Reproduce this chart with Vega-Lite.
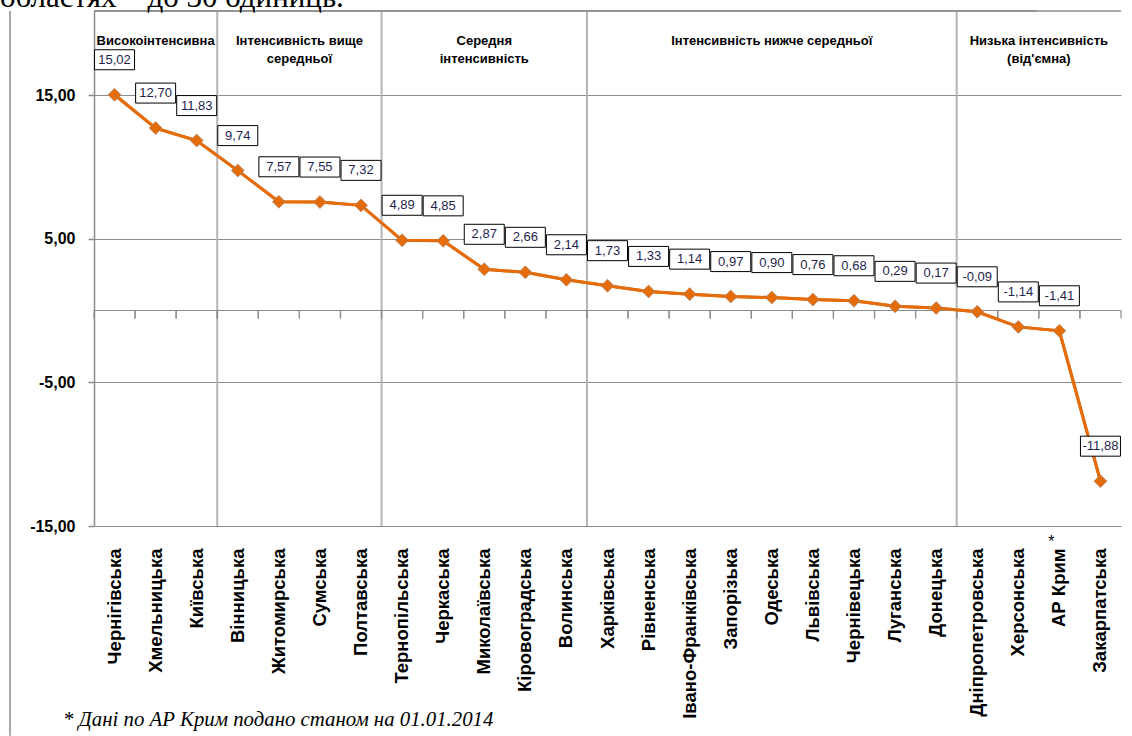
{
  "$schema": "https://vega.github.io/schema/vega-lite/v6.json",
  "width": 1027,
  "height": 515,
  "autosize": {"type": "none"},
  "padding": {"left": 94, "top": 11, "right": 11, "bottom": 210},
  "background": "white",
  "config": {
    "view": {"stroke": null},
    "locale": {"number": {"decimal": ",", "thousands": " ", "grouping": [3], "currency": ["", ""], "minus": "-"}},
    "axisX": {
      "domain": false, "ticks": false, "grid": false,
      "labelAngle": -90, "labelAlign": "right", "labelBaseline": "middle",
      "labelFont": "Liberation Sans", "labelFontSize": 18.5, "labelFontWeight": "bold",
      "labelColor": "black", "labelPadding": 22, "labelOverlap": false, "labelLimit": 300
    },
    "axisY": {
      "grid": true, "gridColor": "#8c8c8c", "gridWidth": 1.2,
      "domain": true, "domainColor": "#8c8c8c", "domainWidth": 1.5,
      "ticks": true, "tickColor": "#8c8c8c", "tickSize": 6, "tickWidth": 1.5,
      "labelFont": "Liberation Sans", "labelFontSize": 16, "labelFontWeight": "bold",
      "labelColor": "black", "labelPadding": 13
    }
  },
  "datasets": {
    "regions": [
      {"region": "Чернігівська", "value": 15.02},
      {"region": "Хмельницька", "value": 12.70},
      {"region": "Київська", "value": 11.83},
      {"region": "Вінницька", "value": 9.74},
      {"region": "Житомирська", "value": 7.57},
      {"region": "Сумська", "value": 7.55},
      {"region": "Полтавська", "value": 7.32},
      {"region": "Тернопільська", "value": 4.89},
      {"region": "Черкаська", "value": 4.85},
      {"region": "Миколаївська", "value": 2.87},
      {"region": "Кіровоградська", "value": 2.66},
      {"region": "Волинська", "value": 2.14},
      {"region": "Харківська", "value": 1.73},
      {"region": "Рівненська", "value": 1.33},
      {"region": "Івано-Франківська", "value": 1.14},
      {"region": "Запорізька", "value": 0.97},
      {"region": "Одеська", "value": 0.90},
      {"region": "Львівська", "value": 0.76},
      {"region": "Чернівецька", "value": 0.68},
      {"region": "Луганська", "value": 0.29},
      {"region": "Донецька", "value": 0.17},
      {"region": "Дніпропетровська", "value": -0.09},
      {"region": "Херсонська", "value": -1.14},
      {"region": "АР Крим", "value": -1.41},
      {"region": "Закарпатська", "value": -11.88}
    ],
    "groups": [
      {"region": "Вінницька"},
      {"region": "Тернопільська"},
      {"region": "Харківська"},
      {"region": "Дніпропетровська"}
    ],
    "headers_mid": [
      {"region": "Хмельницька", "text": "Високоінтенсивна"},
      {"region": "Миколаївська", "text": "Середня\nінтенсивність"},
      {"region": "Одеська", "text": "Інтенсивність нижче середньої"}
    ],
    "headers_edge": [
      {"region": "Житомирська", "text": "Інтенсивність вище\nсередньої"},
      {"region": "Херсонська", "text": "Низька інтенсивність\n(від'ємна)"}
    ],
    "notes": [
      {"region": "Чернігівська", "text": "* Дані по АР Крим подано станом на 01.01.2014"}
    ],
    "star": [{"region": "АР Крим", "text": "*"}],
    "toptext": [{"region": "Чернігівська", "text": "областях – до 30 одиниць."}],
    "one": [{"k": 1}]
  },
  "layer": [
    {
      "data": {"name": "regions"},
      "mark": {"type": "line", "color": "#E46C0A", "strokeWidth": 3},
      "encoding": {
        "x": {
          "field": "region", "type": "nominal", "sort": null,
          "scale": {
            "domain": ["Чернігівська","Хмельницька","Київська","Вінницька","Житомирська","Сумська","Полтавська","Тернопільська","Черкаська","Миколаївська","Кіровоградська","Волинська","Харківська","Рівненська","Івано-Франківська","Запорізька","Одеська","Львівська","Чернівецька","Луганська","Донецька","Дніпропетровська","Херсонська","АР Крим","Закарпатська"],
            "type": "band", "paddingInner": 0, "paddingOuter": 0
          },
          "axis": {"title": null}
        },
        "y": {
          "field": "value", "type": "quantitative",
          "scale": {"domain": [-15, 20.85], "nice": false, "zero": false},
          "axis": {"title": null, "values": [-15, -5, 5, 15], "format": ".2f"}
        }
      }
    },
    {
      "data": {"name": "groups"},
      "mark": {"type": "rule", "color": "#b4b4b4", "strokeWidth": 2},
      "encoding": {
        "x": {"field": "region", "type": "nominal", "bandPosition": 0, "axis": {"title": null}}
      }
    },
    {
      "data": {"name": "one"},
      "mark": {"type": "rule", "color": "#8c8c8c", "strokeWidth": 1.2},
      "encoding": {"y": {"datum": 0, "type": "quantitative", "axis": {"title": null}}}
    },
    {
      "data": {"name": "regions"},
      "mark": {"type": "rule", "color": "#8c8c8c", "strokeWidth": 1.2},
      "encoding": {
        "x": {"field": "region", "type": "nominal", "bandPosition": 0, "axis": {"title": null}},
        "y": {"datum": 0, "type": "quantitative", "axis": {"title": null}},
        "y2": {"datum": -0.55}
      }
    },
    {
      "data": {"name": "regions"},
      "mark": {"type": "rule", "color": "#8c8c8c", "strokeWidth": 1.2},
      "encoding": {
        "x": {"field": "region", "type": "nominal", "bandPosition": 1, "axis": {"title": null}},
        "y": {"datum": 0, "type": "quantitative", "axis": {"title": null}},
        "y2": {"datum": -0.55}
      }
    },
    {
      "data": {"name": "regions"},
      "mark": {"type": "line", "color": "#E46C0A", "strokeWidth": 3},
      "encoding": {
        "x": {"field": "region", "type": "nominal", "sort": null, "axis": {"title": null}},
        "y": {"field": "value", "type": "quantitative", "axis": {"title": null}}
      }
    },
    {
      "data": {"name": "regions"},
      "mark": {"type": "point", "shape": "diamond", "size": 170, "filled": true, "fill": "#E46C0A", "stroke": "#a08a80", "strokeWidth": 0.6, "opacity": 1},
      "encoding": {
        "x": {"field": "region", "type": "nominal", "axis": {"title": null}},
        "y": {"field": "value", "type": "quantitative", "axis": {"title": null}}
      }
    },
    {
      "data": {"name": "regions"},
      "mark": {"type": "point", "shape": "M-1,-0.5H1V0.5H-1Z", "size": 1600, "filled": true, "fill": "white", "stroke": "black", "strokeWidth": 1, "opacity": 1, "yOffset": -35},
      "encoding": {
        "x": {"field": "region", "type": "nominal", "axis": {"title": null}},
        "y": {"field": "value", "type": "quantitative", "axis": {"title": null}}
      }
    },
    {
      "data": {"name": "regions"},
      "mark": {"type": "text", "font": "Liberation Sans", "fontSize": 13, "color": "#1f1f4f", "align": "center", "baseline": "middle", "dy": -35},
      "encoding": {
        "x": {"field": "region", "type": "nominal", "axis": {"title": null}},
        "y": {"field": "value", "type": "quantitative", "axis": {"title": null}},
        "text": {"field": "value", "type": "quantitative", "format": ".2f"}
      }
    },
    {
      "data": {"name": "headers_mid"},
      "mark": {"type": "text", "font": "Liberation Sans", "fontSize": 13, "fontWeight": "bold", "color": "black", "align": "center", "baseline": "middle", "lineBreak": "\n", "lineHeight": 18},
      "encoding": {
        "x": {"field": "region", "type": "nominal", "axis": {"title": null}},
        "y": {"datum": 18.76, "type": "quantitative", "axis": {"title": null}},
        "text": {"field": "text", "type": "nominal"}
      }
    },
    {
      "data": {"name": "headers_edge"},
      "mark": {"type": "text", "font": "Liberation Sans", "fontSize": 13, "fontWeight": "bold", "color": "black", "align": "center", "baseline": "middle", "lineBreak": "\n", "lineHeight": 18},
      "encoding": {
        "x": {"field": "region", "type": "nominal", "bandPosition": 1, "axis": {"title": null}},
        "y": {"datum": 18.76, "type": "quantitative", "axis": {"title": null}},
        "text": {"field": "text", "type": "nominal"}
      }
    },
    {
      "data": {"name": "one"},
      "mark": {"type": "rule", "color": "#8c8c8c", "strokeWidth": 1.5, "xOffset": -84},
      "encoding": {"y": {"datum": 20.85, "type": "quantitative", "axis": {"title": null}}}
    },
    {
      "data": {"name": "one"},
      "mark": {"type": "rule", "color": "#8c8c8c", "strokeWidth": 1.5},
      "encoding": {"y": {"datum": 20.85, "type": "quantitative", "axis": {"title": null}}}
    },
    {
      "data": {"name": "notes"},
      "mark": {"type": "rule", "color": "#8c8c8c", "strokeWidth": 1.5, "xOffset": -84},
      "encoding": {
        "x": {"field": "region", "type": "nominal", "bandPosition": 0, "axis": {"title": null}},
        "y": {"datum": 20.85, "type": "quantitative", "axis": {"title": null}},
        "y2": {"datum": -29.6}
      }
    },
    {
      "data": {"name": "notes"},
      "mark": {"type": "text", "font": "Liberation Serif", "fontSize": 20.8, "fontStyle": "italic", "color": "black", "align": "left", "baseline": "alphabetic", "dx": -31},
      "encoding": {
        "x": {"field": "region", "type": "nominal", "bandPosition": 0, "axis": {"title": null}},
        "y": {"datum": -28.95, "type": "quantitative", "axis": {"title": null}},
        "text": {"field": "text", "type": "nominal"}
      }
    },
    {
      "data": {"name": "star"},
      "mark": {"type": "text", "font": "Liberation Sans", "fontSize": 16, "color": "black", "align": "center", "baseline": "middle", "dx": -8},
      "encoding": {
        "x": {"field": "region", "type": "nominal", "axis": {"title": null}},
        "y": {"datum": -16.1, "type": "quantitative", "axis": {"title": null}},
        "text": {"field": "text", "type": "nominal"}
      }
    },
    {
      "data": {"name": "toptext"},
      "mark": {"type": "text", "font": "Liberation Serif", "fontSize": 31, "color": "black", "align": "left", "baseline": "alphabetic", "dx": -94},
      "encoding": {
        "x": {"field": "region", "type": "nominal", "bandPosition": 0, "axis": {"title": null}},
        "y": {"datum": 21.15, "type": "quantitative", "axis": {"title": null}},
        "text": {"field": "text", "type": "nominal"}
      }
    }
  ]
}
